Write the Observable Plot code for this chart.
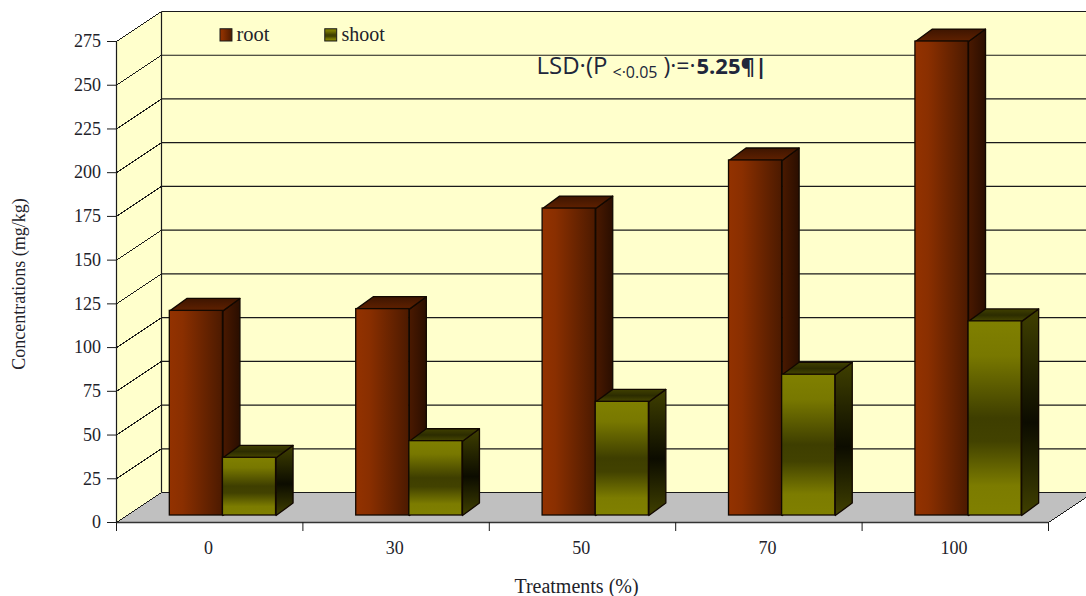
<!DOCTYPE html>
<html>
<head>
<meta charset="utf-8">
<script src="https://cdn.jsdelivr.net/npm/d3@7"></script>
<script src="https://cdn.jsdelivr.net/npm/@observablehq/plot@0.6"></script>
<style>
  html, body { margin: 0; padding: 0; background: #fff; overflow: hidden; }
</style>
</head>
<body>
<div id="chart"></div>
<script>
// Concentrations per treatment level, in mg/kg
const categories = ["0", "30", "50", "70", "100"];
const rootValues = [117, 118, 175.5, 203, 271];
const shootValues = [33, 42.5, 65, 80.5, 111];
const yTicks = [0, 25, 50, 75, 100, 125, 150, 175, 200, 225, 250, 275];

// Depth of the box and of each bar, in scale units (slots across, mg/kg up)
const wallDx = 0.2414, wallDy = 17.15;
const barDx = 0.0912, barDy = 7.1;
const barBase = 4;
const barInset = 0.286, barWidth = 0.285;
const slotCount = categories.length;
const wallEnd = slotCount + wallDx;

const ink = "#1a1a1a";

// Gradients shared by the bar faces and the legend swatches
function gradient(defs, id, horizontal, stops) {
  const g = defs.append("linearGradient").attr("id", id)
    .attr("x1", 0).attr("y1", 0)
    .attr("x2", horizontal ? 1 : 0).attr("y2", horizontal ? 0 : 1);
  for (const [offset, color] of stops) {
    g.append("stop").attr("offset", offset).attr("stop-color", color);
  }
}
const gradients = () => {
  const defs = d3.create("svg:defs");
  gradient(defs, "rootFront", true, [[0, "#933200"], [0.25, "#8a2f00"], [1, "#4c1a00"]]);
  gradient(defs, "rootSide", true, [[0, "#4a1900"], [1, "#2a0e00"]]);
  gradient(defs, "rootTop", false, [[0, "#3e1500"], [1, "#602100"]]);
  gradient(defs, "shootFront", false, [[0, "#808000"], [0.18, "#787800"], [0.5, "#3e3e00"], [0.62, "#424200"], [0.85, "#7c7c00"], [1, "#808000"]]);
  gradient(defs, "shootSide", false, [[0, "#404000"], [0.55, "#0c0c00"], [1, "#404000"]]);
  gradient(defs, "shootTop", false, [[0, "#404000"], [0.5, "#2c2c00"], [1, "#484800"]]);
  return defs.node();
};

// Builds the front, side and top faces of one series of bars
function faces(values, offset) {
  const left = i => i + barInset + offset * barWidth;
  const front = values.map((v, i) => ({x1: left(i), x2: left(i) + barWidth, y1: barBase, y2: barBase + v}));
  const side = [], top = [];
  values.forEach((v, i) => {
    const x = left(i) + barWidth, y0 = barBase, y1 = barBase + v;
    side.push(
      {id: i, x, y: y0}, {id: i, x: x + barDx, y: y0 + barDy},
      {id: i, x: x + barDx, y: y1 + barDy}, {id: i, x, y: y1}
    );
    top.push(
      {id: i, x: left(i), y: y1}, {id: i, x, y: y1},
      {id: i, x: x + barDx, y: y1 + barDy}, {id: i, x: left(i) + barDx, y: y1 + barDy}
    );
  });
  return {front, side, top};
}

function barMarks(values, offset, name) {
  const f = faces(values, offset);
  const edge = {stroke: "#120800", strokeWidth: 1.3};
  return [
    Plot.line(f.side, {x: "x", y: "y", z: "id", curve: "linear-closed", fill: `url(#${name}Side)`, ...edge}),
    Plot.line(f.top, {x: "x", y: "y", z: "id", curve: "linear-closed", fill: `url(#${name}Top)`, ...edge}),
    Plot.rect(f.front, {x1: "x1", x2: "x2", y1: "y1", y2: "y2", fill: `url(#${name}Front)`, inset: 0, ...edge})
  ];
}

// Positioned by offset from the plot frame's top-left corner
function label(text, dx, dy, options = {}) {
  return Plot.text([text], {frameAnchor: "top-left", textAnchor: "start", lineAnchor: "middle", dx, dy, ...options});
}

const serif = {fontFamily: "Liberation Serif", fill: "#22222a"};
const lsdFont = {fontFamily: "Open Sans", fill: "#20263a"};

const leftWall = [
  {x: 0, y: 0}, {x: wallDx, y: wallDy}, {x: wallDx, y: 275 + wallDy}, {x: 0, y: 275}
];
const floor = [
  {x: 0, y: 0}, {x: wallDx, y: wallDy}, {x: wallEnd, y: wallDy}, {x: slotCount, y: 0}
];

const chart = Plot.plot({
  width: 1086,
  height: 596,
  marginLeft: 116,
  marginRight: 38,
  marginTop: 41,
  marginBottom: 74,
  x: {type: "linear", domain: [0, slotCount]},
  y: {domain: [0, 275]},
  style: {fontFamily: "Liberation Serif", fontSize: "14px", background: "#fff", color: ink},
  marks: [
    gradients,
    // Back and left walls
    Plot.rect([0], {x1: wallDx, x2: wallEnd, y1: wallDy, y2: 275 + wallDy, fill: "#ffffcc"}),
    Plot.line(leftWall, {x: "x", y: "y", curve: "linear-closed", fill: "#ffffcc", stroke: "none"}),
    // Gridlines across both walls
    Plot.link(yTicks, {x1: wallDx, x2: wallEnd, y1: d => d + wallDy, y2: d => d + wallDy, stroke: ink, strokeWidth: 1.2}),
    Plot.link(yTicks, {x1: 0, x2: wallDx, y1: d => d, y2: d => d + wallDy, stroke: ink, strokeWidth: 1, shapeRendering: "crispEdges"}),
    // Floor
    Plot.line(floor, {x: "x", y: "y", curve: "linear-closed", fill: "#c0c0c0", stroke: "none"}),
    Plot.link([0], {x1: wallDx, x2: wallEnd, y1: wallDy, y2: wallDy, stroke: ink, strokeWidth: 1.2}),
    Plot.link([0], {x1: 0, x2: wallDx, y1: 0, y2: wallDy, stroke: ink, strokeWidth: 1, shapeRendering: "crispEdges"}),
    Plot.link([0], {x1: slotCount, x2: wallEnd, y1: 0, y2: wallDy, stroke: ink, strokeWidth: 1, shapeRendering: "crispEdges"}),
    // Wall edges
    Plot.link([0], {x1: wallDx, x2: wallDx, y1: wallDy, y2: 275 + wallDy, stroke: ink, strokeWidth: 1.2}),
    Plot.link([0], {x1: 0, x2: 0, y1: 0, y2: 275, stroke: ink, strokeWidth: 1.2}),
    Plot.link([0], {x1: 0, x2: slotCount, y1: 0, y2: 0, stroke: "#333", strokeWidth: 1.6}),
    // Bars
    ...barMarks(rootValues, 0, "root"),
    ...barMarks(shootValues, 1, "shoot"),
    // Axes
    Plot.axisY(yTicks, {tickSize: 9, tickPadding: 6.5, label: null, fontSize: 18, stroke: ink, fill: "#22222a"}),
    Plot.axisX(d3.range(slotCount + 1), {tickSize: 9, tickFormat: () => "", label: null, stroke: ink}),
    Plot.text(categories, {x: (d, i) => i + 0.493, frameAnchor: "bottom", dy: 31, fontSize: 18, ...serif}),
    Plot.text(["Treatments (%)"], {frameAnchor: "bottom", dx: -6, dy: 70, fontSize: 20, ...serif}),
    Plot.text(["Concentrations (mg/kg)"], {frameAnchor: "left", textAnchor: "middle", rotate: -90, dx: -97, dy: 2, fontSize: 18, ...serif}),
    // Legend
    Plot.rect([0], {x1: 0.558, x2: 0.622, y1: 275, y2: 282, fill: "url(#rootFront)", stroke: ink}),
    label("root", 120, -7, {fontSize: 20.5, ...serif}),
    Plot.rect([0], {x1: 1.12, x2: 1.184, y1: 275, y2: 282, fill: "url(#shootFront)", stroke: ink}),
    label("shoot", 225, -7, {fontSize: 20, ...serif}),
    // LSD annotation, with the P condition set as a subscript
    label("LSD·(P", 420, 25, {fontSize: 24, ...lsdFont}),
    label("<·0.05", 496, 31, {fontSize: 16, ...lsdFont}),
    label(")·=·", 547, 25, {fontSize: 23, ...lsdFont}),
    label("5.25¶|", 580, 25, {fontSize: 22, fontWeight: "bold", ...lsdFont})
  ]
});

document.getElementById("chart").append(chart);
</script>
</body>
</html>
